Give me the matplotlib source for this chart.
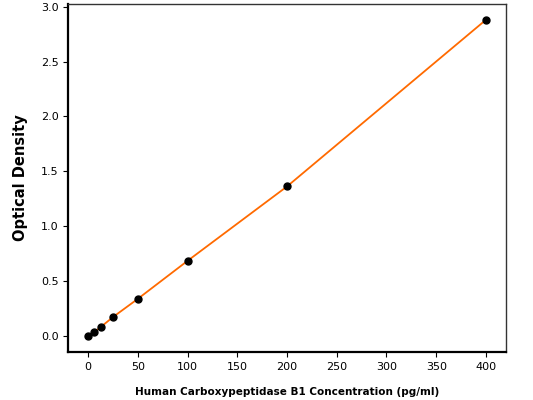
import matplotlib
matplotlib.use('Agg')
import matplotlib.pyplot as plt

# standard curve data
conc = [0, 6.25, 12.5, 25, 50, 100, 200, 400]
od = [0.0, 0.037, 0.082, 0.174, 0.34, 0.686, 1.363, 2.88]

fig = plt.figure(figsize=(5.33, 4.0), dpi=100)
ax = fig.add_axes([0.128, 0.12, 0.821, 0.87])

ax.plot(conc, od, color='#ff6a00', linewidth=1.3, zorder=2)
ax.scatter(conc, od, color='black', s=25, zorder=3)

ax.set_xticks([0, 50, 100, 150, 200, 250, 300, 350, 400])
ax.set_yticks([0.0, 0.5, 1.0, 1.5, 2.0, 2.5, 3.0])
ax.tick_params(labelsize=8)

ax.set_xlabel('Human Carboxypeptidase B1 Concentration (pg/ml)',
              fontsize=7.5, fontweight='bold', labelpad=11)
ax.set_ylabel('Optical Density', fontsize=10.5, fontweight='bold', labelpad=9)

for side in ['left', 'bottom']:
    ax.spines[side].set_linewidth(1.6)
    ax.spines[side].set_color('black')
for side in ['top', 'right']:
    ax.spines[side].set_linewidth(1.0)
    ax.spines[side].set_color('#333333')

plt.savefig('out.png', dpi=100)
plt.close()
